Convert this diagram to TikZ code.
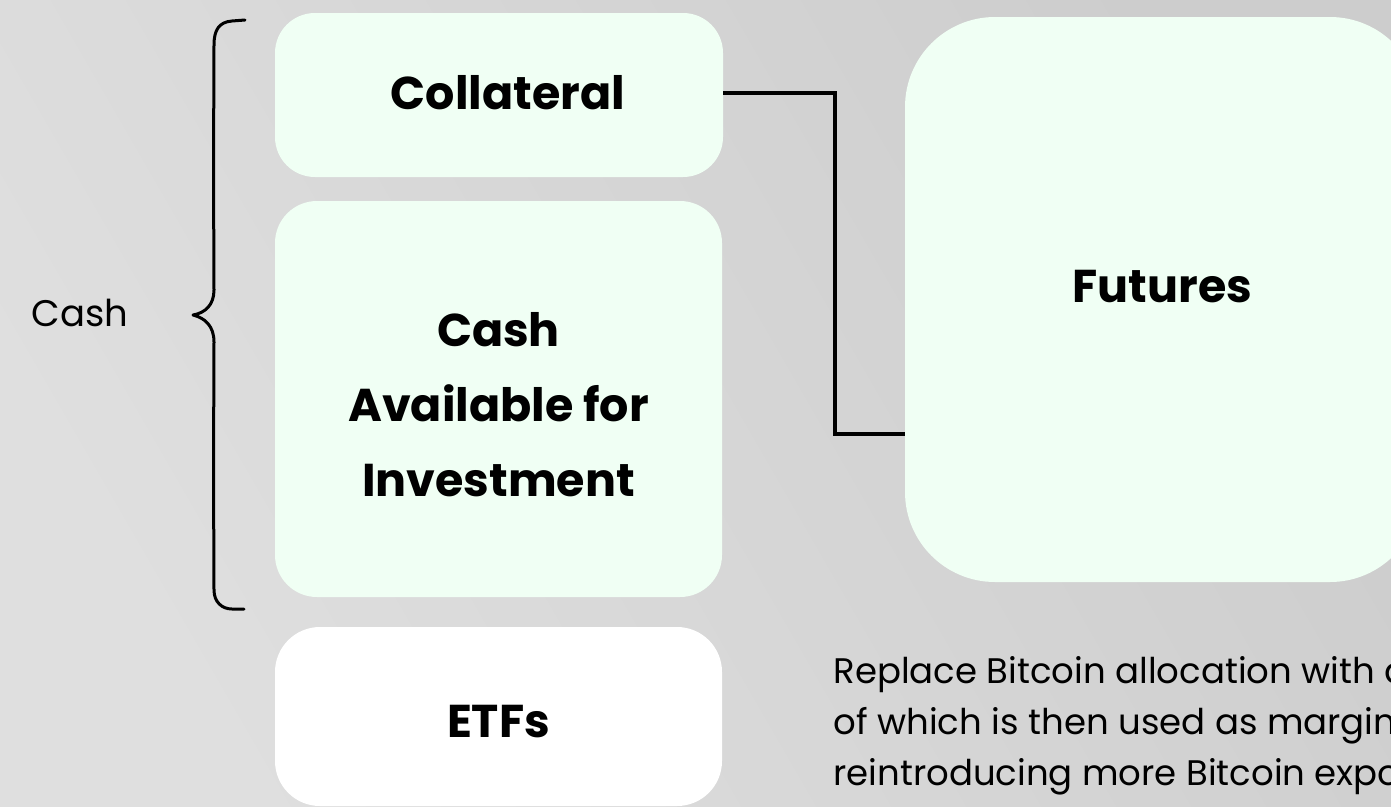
\documentclass[tikz,border=0pt]{standalone}
\usepackage{fontspec}
\setmainfont{Poppins}
\usetikzlibrary{shadings}
\definecolor{mint}{HTML}{F0FFF4}
\definecolor{bgA}{HTML}{DFDFDF}
\definecolor{bgB}{HTML}{CDCDCD}
\begin{document}
\begin{tikzpicture}[x=1pt,y=-1pt,
  box/.style={fill=mint, draw=none, rounded corners=#1, inner sep=0pt},
  box/.default=40pt,
  lbl/.style={font=\bfseries\fontsize{46}{75}\selectfont, align=center, text=black},
  body/.style={font=\fontsize{35.5}{51}\selectfont, align=left, anchor=base west, text=black},
  conn/.style={line width=4pt, black},
  bracepath/.style={line width=3pt, black, line cap=round, line join=round}]
\useasboundingbox (0,0) rectangle (1391,806);
\clip (0,0) rectangle (1391,806);
\shade[left color=bgA, right color=bgB, shading angle=120] (0,0) rectangle (1391,806);
% boxes
\node[box=40pt, minimum width=448pt, minimum height=164pt] (coll) at (499,95) {};
\node[lbl] (colltxt) at (508,93) {Collateral};
\node[box=42pt, minimum width=447pt, minimum height=396pt] (cashav) at (498.5,399) {};
\node[lbl] (cashtxt) at (498.5,405) {Cash\\Available for\\Investment};
\node[box=45pt, fill=white, minimum width=447pt, minimum height=179pt] (etf) at (498.5,716.5) {};
\node[lbl] (etftxt) at (498.5,722) {ETFs};
\node[box=90pt, minimum width=515pt, minimum height=565pt] (fut) at (1162.5,299.5) {};
\node[lbl] (futtxt) at (1162.5,287) {Futures};
% connector
\coordinate (j1) at (835,93);
\coordinate (j2) at (835,434);
\draw[conn] (coll.east |- j1) -- (j1) -- (j2) -- (fut.west |- j2);
% brace
\draw[bracepath] (245,20) -- (232,21) .. controls (219,22) and (214,30) .. (214,45)
  -- (213.5,170) -- (214,290) .. controls (214,305) and (205,313) .. (193,315)
  .. controls (205,318) and (214,326) .. (214,342) -- (213.5,470) -- (214,590)
  .. controls (214,602) and (222,609) .. (232,609) -- (244,609);
\node[font=\fontsize{37}{40}\selectfont, anchor=base] (cashlbl) at (80,326) {Cash};
% body text
\node[body] (note) at (830,785) {Replace Bitcoin allocation with a portion\\of which is then used as margin for futures,\\reintroducing more Bitcoin exposure};
\end{tikzpicture}
\end{document}
